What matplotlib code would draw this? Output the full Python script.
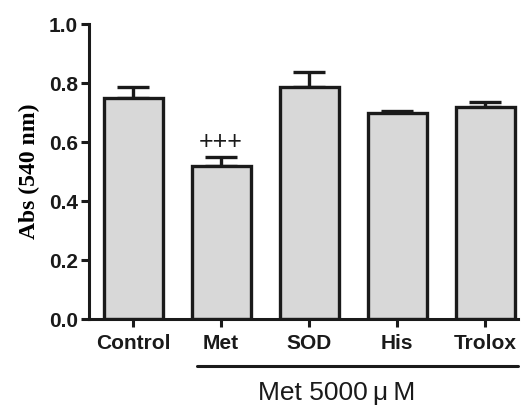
import numpy as np
import matplotlib
matplotlib.use("Agg")
from matplotlib import pyplot as plt
from matplotlib import transforms

# valeurs
groupes = ["Control", "Met", "SOD", "His", "Trolox"]
moyennes = [0.750, 0.520, 0.788, 0.697, 0.720]
erreurs = [0.038, 0.030, 0.048, 0.008, 0.015]
signif = ["", "+++", "", "", ""]
texte_groupe = "Met 5000\u2009\u03bc\u2009M"

plt.rcParams["font.family"] = ["Liberation Sans", "DejaVu Sans"]

fig = plt.figure(figsize=(5.28, 4.09), dpi=100)
ax = fig.add_axes([0.1686, 0.22, 0.8124, 0.721])

x = np.arange(len(groupes))
ax.bar(x, moyennes, width=0.67, color="#d8d8d8", edgecolor="#1a1a1a",
       linewidth=2.4, zorder=2)
ax.errorbar(x, moyennes, yerr=[np.zeros(len(erreurs)), erreurs], fmt="none",
            ecolor="#1a1a1a", elinewidth=2.4, capsize=11.5, capthick=2.4, zorder=1)

for xi, m, e, s in zip(x, moyennes, erreurs, signif):
    if s:
        ax.text(xi, m + e + 0.008, s, ha="center", va="bottom", fontsize=18,
                color="#1a1a1a")

ax.set_xlim(-0.5, 4.37)
ax.set_ylim(0, 1.0)
ax.set_yticks([0.0, 0.2, 0.4, 0.6, 0.8, 1.0])
ax.set_yticklabels(["0.0", "0.2", "0.4", "0.6", "0.8", "1.0"])
ax.set_xticks(x)
ax.set_xticklabels(groupes)

for lab in ax.get_xticklabels() + ax.get_yticklabels():
    lab.set_fontweight("bold")
    lab.set_fontsize(15)
    lab.set_color("#1a1a1a")

ax.spines["top"].set_visible(False)
ax.spines["right"].set_visible(False)
for sp in ["left", "bottom"]:
    ax.spines[sp].set_linewidth(2.2)
    ax.spines[sp].set_color("#1a1a1a")
ax.tick_params(axis="both", direction="out", length=6, width=2.2,
               color="#1a1a1a", pad=2)
ax.tick_params(axis="x", pad=5)

ax.set_ylabel("Abs (540 nm)", family=["Liberation Serif", "DejaVu Serif"],
              fontweight="bold", fontsize=17, labelpad=6)

# trait sous les groupes traités
trans = transforms.blended_transform_factory(ax.transData, ax.transAxes)
ax.plot([0.73, 4.37], [-0.16, -0.16], transform=trans, color="#1a1a1a",
        linewidth=2.2, clip_on=False, solid_capstyle="round")
ax.text(2.31, -0.25, texte_groupe, transform=trans, ha="center", va="center",
        fontsize=19, color="#1a1a1a")

fig.savefig("out.png", dpi=100)
